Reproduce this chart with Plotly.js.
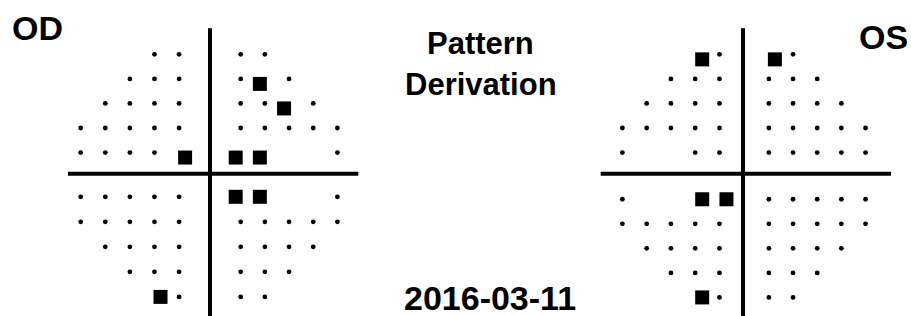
<!DOCTYPE html>
<html>
<head>
<meta charset="utf-8">
<script src="https://cdn.plot.ly/plotly-3.0.1.min.js"></script>
<style>html,body{margin:0;padding:0;background:#fff;}#chart{width:911px;height:316px;}</style>
</head>
<body>
<div id="chart"></div>
<script>
// ---- Data (visual field grid, degrees) ----
const rowY = [27, 21, 15, 9, 3, -3, -9, -15, -21, -27];

// OD (right eye): points shown as small dots, per row
const odDotRows = [
  [-9, -3, 3, 9],
  [-15, -9, -3, 3, 15],
  [-21, -15, -9, -3, 3, 9, 21],
  [-27, -21, -15, -9, -3, 3, 9, 15, 21, 27],
  [-27, -21, -15, -9, 27],
  [-27, -21, -15, -9, -3, 27],
  [-27, -21, -15, -9, -3, 3, 9, 15, 21, 27],
  [-21, -15, -9, -3, 3, 9, 15, 21],
  [-15, -9, -3, 3, 9, 15],
  [-3, 3, 9]
];
// OD: points shown as black squares, per row
const odSqRows = [
  [],
  [9],
  [15],
  [],
  [-3, 3, 9],
  [3, 9],
  [],
  [],
  [],
  [-9]
];

// OS (left eye)
const osDotRows = [
  [-3, 9],
  [-15, -9, -3, 3, 9, 15],
  [-21, -15, -9, -3, 3, 9, 15, 21],
  [-27, -21, -15, -9, -3, 3, 9, 15, 21, 27],
  [-27, -9, -3, 3, 9, 15, 21, 27],
  [-27, 3, 9, 15, 21, 27],
  [-27, -21, -15, -9, -3, 3, 9, 15, 21, 27],
  [-21, -15, -9, -3, 3, 9, 15, 21],
  [-15, -9, -3, 3, 9, 15],
  [-3, 3, 9]
];
const osSqRows = [
  [-9, 3],
  [],
  [],
  [],
  [],
  [-9, -3],
  [],
  [],
  [],
  [-9]
];

const eyeLabels = ["OD", "OS"];
const titleLines = ["Pattern", "Derivation"];
const dateLabel = "2016-03-11";

// ---- Layout geometry (pixels) ----
const W = 911, H = 316;
const px = p => p / W;
const py = p => 1 - p / H;

const eyes = [
  { dots: odDotRows, sq: odSqRows,
    x0L: 191.4, x0R: 228.6, kxL: 4.10, kxR: 4.03,
    y0T: 164.8, y0B: 184.3, kyT: 4.09, kyB: 4.17,
    sqShift: { L: 6, R: -5, T: 5, B: 0 },
    cross: { cx: 210, cy: 173.7, x1: 68, x2: 358.3, y1: 28.3 } },
  { dots: osDotRows, sq: osSqRows,
    x0L: 731.6, x0R: 756.8, kxL: 4.045, kxR: 4.027,
    y0T: 164.8, y0B: 187.0, kyT: 4.09, kyB: 4.09,
    sqShift: { L: 7, R: 6, T: 5, B: 0 },
    cross: { cx: 743, cy: 173.7, x1: 600.7, x2: 891, y1: 28.3 } }
];

const layout = {
  width: W, height: H,
  margin: { l: 0, r: 0, t: 0, b: 0 },
  paper_bgcolor: "#ffffff", plot_bgcolor: "rgba(0,0,0,0)",
  showlegend: false,
  shapes: [], annotations: []
};
const traces = [];
const axCount = { x: 0, y: 0 };

function addAxes(e, s) {
  const ids = {};
  const defs = [
    ["xL", "x", [px(e.x0L - 30 * e.kxL + s.L), px(e.x0L + s.L)], [-30, 0]],
    ["xR", "x", [px(e.x0R + s.R), px(e.x0R + 30 * e.kxR + s.R)], [0, 30]],
    ["yT", "y", [py(e.y0T + s.T), py(e.y0T - 30 * e.kyT + s.T)], [0, 30]],
    ["yB", "y", [py(e.y0B + 30 * e.kyB + s.B), py(e.y0B + s.B)], [-30, 0]]
  ];
  defs.forEach(([key, letter, dom, rng]) => {
    axCount[letter] += 1;
    const n = axCount[letter];
    const lname = letter + "axis" + (n === 1 ? "" : n);
    layout[lname] = { domain: dom, range: rng, visible: false, fixedrange: true };
    ids[key] = letter + (n === 1 ? "" : n);
  });
  return ids;
}

eyes.forEach(e => {
  const dotAx = addAxes(e, { L: 0, R: 0, T: 0, B: 0 });
  const sqAx = addAxes(e, e.sqShift);
  const quads = [["xL", "yT"], ["xR", "yT"], ["xL", "yB"], ["xR", "yB"]];
  const build = (rows, ax, marker) => {
    quads.forEach(([qx, qy]) => {
      const xs = [], ys = [];
      rows.forEach((r, i) => {
        const y = rowY[i];
        if ((qy === "yT") !== (y > 0)) return;
        r.forEach(x => {
          if ((qx === "xR") === (x > 0)) { xs.push(x); ys.push(y); }
        });
      });
      if (xs.length) traces.push({
        type: "scatter", mode: "markers", x: xs, y: ys,
        xaxis: ax[qx], yaxis: ax[qy], cliponaxis: false,
        marker: marker, hoverinfo: "skip"
      });
    });
  };
  build(e.dots, dotAx, { symbol: "circle", size: 4.8, color: "#000" });
  build(e.sq, sqAx, { symbol: "square", size: 14, color: "#000", line: { width: 0 } });

  const c = e.cross;
  layout.shapes.push({ type: "line", xref: "paper", yref: "paper",
    x0: px(c.cx), x1: px(c.cx), y0: py(c.y1), y1: py(H + 5),
    line: { color: "#000", width: 4 } });
  layout.shapes.push({ type: "line", xref: "paper", yref: "paper",
    x0: px(c.x1), x1: px(c.x2), y0: py(c.cy), y1: py(c.cy),
    line: { color: "#000", width: 4 } });
});

const font = (s) => ({ family: "Liberation Sans, Arial, Helvetica, sans-serif", size: s, color: "#000" });
const ann = (text, x, y, s) => ({ text: "<b>" + text + "</b>", xref: "paper", yref: "paper",
  x: px(x), y: py(y), xanchor: "center", yanchor: "middle", showarrow: false, font: font(s) });
layout.annotations.push(ann(eyeLabels[0], 37.5, 27.9, 34));
layout.annotations.push(ann(eyeLabels[1], 883.3, 37.5, 34));
layout.annotations.push(ann(titleLines[0], 480, 43.8, 31));
layout.annotations.push(ann(titleLines[1], 480.8, 84.2, 31));
layout.annotations.push(ann(dateLabel, 490, 298, 34));

Plotly.newPlot("chart", traces, layout, { staticPlot: true, displayModeBar: false });
</script>
</body>
</html>
